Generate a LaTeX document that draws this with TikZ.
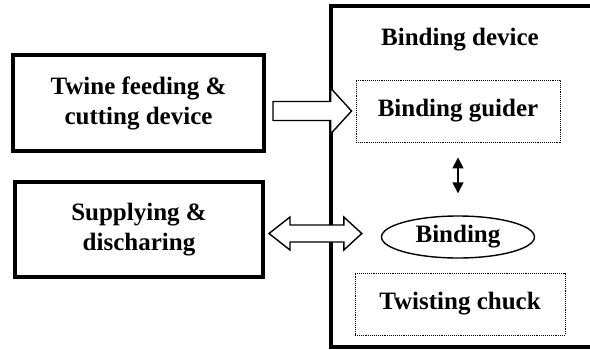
\documentclass[tikz,border=0pt]{standalone}
\usepackage{fontspec}
\setmainfont{Liberation Serif}
\usetikzlibrary{calc,shapes.geometric,arrows.meta}
\begin{document}
\begin{tikzpicture}[x=1pt,y=-1pt,
  every node/.style={font=\fontsize{25}{30}\selectfont\bfseries, align=center, inner sep=0pt},
  heavybox/.style={draw, line width=4pt, minimum width=251, minimum height=96},
  dotbox/.style={draw, densely dotted, line width=0.9pt},
  blk/.style={draw, line width=1.4pt, fill=white, line join=miter},
  thinarrow/.style={{Triangle[length=11pt,width=11pt]}-{Triangle[length=11pt,width=11pt]}, line width=1.6pt}]
  \useasboundingbox (0,0) rectangle (590,349);
  \clip (0,0) rectangle (590,349);
  \fill[white] (0,0) rectangle (590,349);

  % outer frame of the binding device (runs off the right side)
  \node[draw, line width=4pt, minimum width=400, minimum height=341] (frame) at (531,176) {};
  \node (title) at (460,40) {Binding device};

  % left-hand units
  \node[heavybox] (tw) at (138.5,103) {Twine feeding \&\\cutting device};
  \node[heavybox, minimum width=248, minimum height=95] (sd) at (139,229.5) {Supplying \&\\discharing};

  % parts inside the binding device
  \node[dotbox, minimum width=204, minimum height=62] (gd) at (458,111) {Binding guider};
  \node[draw, ellipse, line width=1.4pt, minimum width=153, minimum height=42] (bd) at (458,237) {Binding};
  \node[dotbox, minimum width=210, minimum height=62] (tc) at (460,304) {Twisting chuck};

  % block arrow: twine feeding -> binding guider
  \coordinate (a1s) at ($(tw.east |- gd.west)+(7,0)$);
  \coordinate (a1e) at ($(gd.west)+(-4,0)$);
  \draw[blk] let \p1=(a1s), \p2=(a1e) in
    (\x1,\y1+9.5pt) -- (\x2-21pt,\y1+9.5pt) -- (\x2-21pt,\y1+23pt) -- (\x2,\y1)
    -- (\x2-21pt,\y1-23pt) -- (\x2-21pt,\y1-9.5pt) -- (\x1,\y1-9.5pt) -- cycle;

  % double block arrow: supplying & discharing <-> binding
  \coordinate (a2s) at ($(sd.east)+(4,4)$);
  \coordinate (a2e) at ($(bd.west |- a2s)+(-19,0)$);
  \draw[blk] let \p1=(a2s), \p2=(a2e) in
    (\x1,\y1) -- (\x1+21pt,\y1+16.5pt) -- (\x1+21pt,\y1+8.5pt) -- (\x2-18pt,\y1+8.5pt)
    -- (\x2-18pt,\y1+16.5pt) -- (\x2,\y1) -- (\x2-18pt,\y1-16.5pt) -- (\x2-18pt,\y1-8.5pt)
    -- (\x1+21pt,\y1-8.5pt) -- (\x1+21pt,\y1-16.5pt) -- cycle;

  % guider <-> binding
  \draw[thinarrow] ($(gd.south)+(0,15)$) -- ($(bd.north)+(0,-22)$);
\end{tikzpicture}
\end{document}
